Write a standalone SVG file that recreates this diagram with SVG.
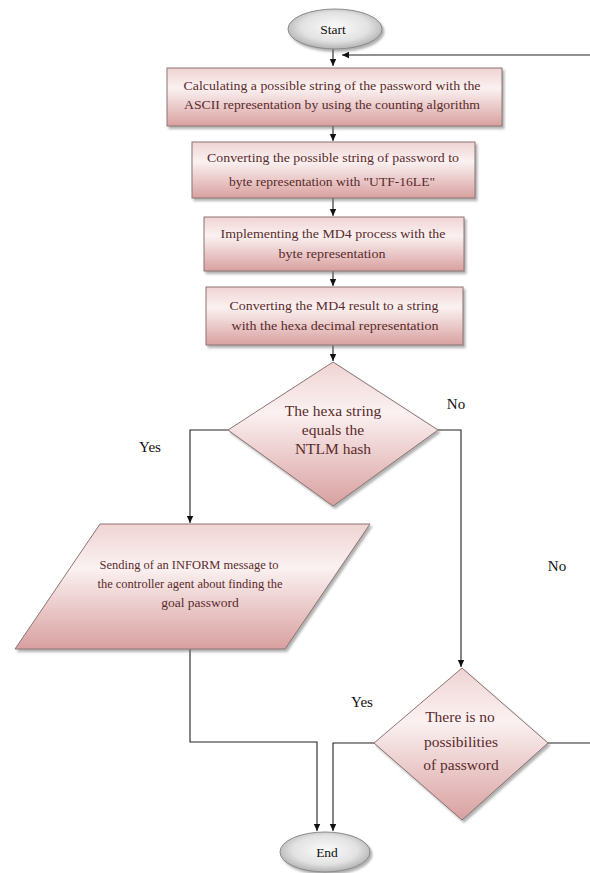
<svg xmlns="http://www.w3.org/2000/svg" width="590" height="873" viewBox="0 0 590 873">
  <defs>
    <linearGradient id="rose" x1="0" y1="0" x2="0" y2="1">
      <stop offset="0" stop-color="#f0d3d3"/>
      <stop offset="0.35" stop-color="#fbf1f1"/>
      <stop offset="1" stop-color="#d9a0a0"/>
    </linearGradient>
    <radialGradient id="pebble" cx="0.5" cy="0.45" r="0.6">
      <stop offset="0" stop-color="#fbfbfb"/>
      <stop offset="0.6" stop-color="#e2e2e2"/>
      <stop offset="1" stop-color="#a6a6a6"/>
    </radialGradient>
    <filter id="shadow" x="-10%" y="-10%" width="125%" height="130%">
      <feDropShadow dx="2" dy="2.5" stdDeviation="1.2" flood-color="#6f6f6f" flood-opacity="0.55"/>
    </filter>
    <marker id="arrow" markerWidth="8" markerHeight="8" refX="7" refY="4" orient="auto" markerUnits="userSpaceOnUse">
      <path d="M0,0.8 L7,4 L0,7.2 Z" fill="#111"/>
    </marker>
  </defs>
  <style>
    .box { fill: url(#rose); stroke: #8c7474; stroke-width: 1; filter: url(#shadow); }
    .term { fill: url(#pebble); stroke: #8a8a8a; stroke-width: 1; filter: url(#shadow); }
    .txt { font-family: "Liberation Serif", "DejaVu Serif", serif; font-size: 13.5px; fill: #5a2b2b; text-anchor: middle; }
    .dtxt { font-family: "Liberation Serif", "DejaVu Serif", serif; font-size: 15.5px; fill: #5a2b2b; text-anchor: middle; }
    .ttxt { font-family: "Liberation Serif", "DejaVu Serif", serif; font-size: 13.5px; fill: #111; text-anchor: middle; }
    .lbl { font-family: "Liberation Serif", "DejaVu Serif", serif; font-size: 15px; fill: #111; text-anchor: middle; }
    .wire { fill: none; stroke: #222; stroke-width: 1.1; }
    .flow { marker-end: url(#arrow); }
  </style>

  <rect width="590" height="873" fill="#ffffff"/>

  <!-- connectors -->
  <g id="connectors">
    <path class="wire flow" d="M333,49 V66"/>
    <path class="wire flow" d="M592,743 H592 V55 H342"/>
    <path class="wire" d="M548,743 H592"/>
    <path class="wire flow" d="M333,126 V141"/>
    <path class="wire flow" d="M333,198 V216"/>
    <path class="wire flow" d="M333,271 V286"/>
    <path class="wire flow" d="M333,345 V361"/>
    <path class="wire flow" d="M228,430 H190 V523"/>
    <path class="wire flow" d="M438,430 H461 V667"/>
    <path class="wire flow" d="M190,649 V742 H317 V831"/>
    <path class="wire flow" d="M374,743 H333 V831"/>
  </g>

  <!-- branch labels -->
  <g id="labels">
    <text class="lbl" x="150" y="452">Yes</text>
    <text class="lbl" x="456" y="409">No</text>
    <text class="lbl" x="557" y="571">No</text>
    <text class="lbl" x="362" y="707">Yes</text>
  </g>

  <g id="start">
    <ellipse class="term" cx="335" cy="29" rx="47" ry="20"/>
    <text class="ttxt" x="333" y="34">Start</text>
  </g>

  <g id="step-count">
    <rect class="box" x="167" y="68" width="335" height="58"/>
    <text class="txt" x="332" y="90" textLength="297" lengthAdjust="spacingAndGlyphs">Calculating a possible string of the password with the</text>
    <text class="txt" x="332" y="109" textLength="296" lengthAdjust="spacingAndGlyphs">ASCII representation by using the counting algorithm</text>
  </g>

  <g id="step-utf16">
    <rect class="box" x="192" y="142" width="283" height="56"/>
    <text class="txt" x="333" y="162" textLength="252" lengthAdjust="spacingAndGlyphs">Converting the possible string of password to</text>
    <text class="txt" x="332" y="186" textLength="206" lengthAdjust="spacingAndGlyphs">byte representation with "UTF-16LE"</text>
  </g>

  <g id="step-md4">
    <rect class="box" x="204" y="217" width="260" height="54"/>
    <text class="txt" x="333" y="238" textLength="225" lengthAdjust="spacingAndGlyphs">Implementing the MD4 process with the</text>
    <text class="txt" x="332" y="258" textLength="107" lengthAdjust="spacingAndGlyphs">byte representation</text>
  </g>

  <g id="step-hex">
    <rect class="box" x="206" y="287" width="257" height="58"/>
    <text class="txt" x="334" y="310" textLength="209" lengthAdjust="spacingAndGlyphs">Converting the MD4 result to a string</text>
    <text class="txt" x="335" y="330" textLength="207" lengthAdjust="spacingAndGlyphs">with the  hexa decimal representation</text>
  </g>

  <g id="check-hash">
    <polygon class="box" points="333,362 438,430 333,506 228,430"/>
    <text class="dtxt" x="333" y="416">The hexa string</text>
    <text class="dtxt" x="333" y="435">equals the</text>
    <text class="dtxt" x="333" y="454">NTLM hash</text>
  </g>

  <g id="inform">
    <polygon class="box" points="100,524 370,524 285,649 15,649"/>
    <text class="txt" x="189" y="569" textLength="179" lengthAdjust="spacingAndGlyphs">Sending of an INFORM message to</text>
    <text class="txt" x="190" y="588" textLength="185" lengthAdjust="spacingAndGlyphs">the controller agent about finding the</text>
    <text class="txt" x="200" y="607">goal password</text>
  </g>

  <g id="check-left">
    <polygon class="box" points="462,668 548,743 462,820 374,743"/>
    <text class="dtxt" x="460" y="722">There is no</text>
    <text class="dtxt" x="461" y="747">possibilities</text>
    <text class="dtxt" x="461" y="770">of password</text>
  </g>

  <g id="end">
    <ellipse class="term" cx="325" cy="852" rx="45" ry="20"/>
    <text class="ttxt" x="327" y="857">End</text>
  </g>
</svg>
